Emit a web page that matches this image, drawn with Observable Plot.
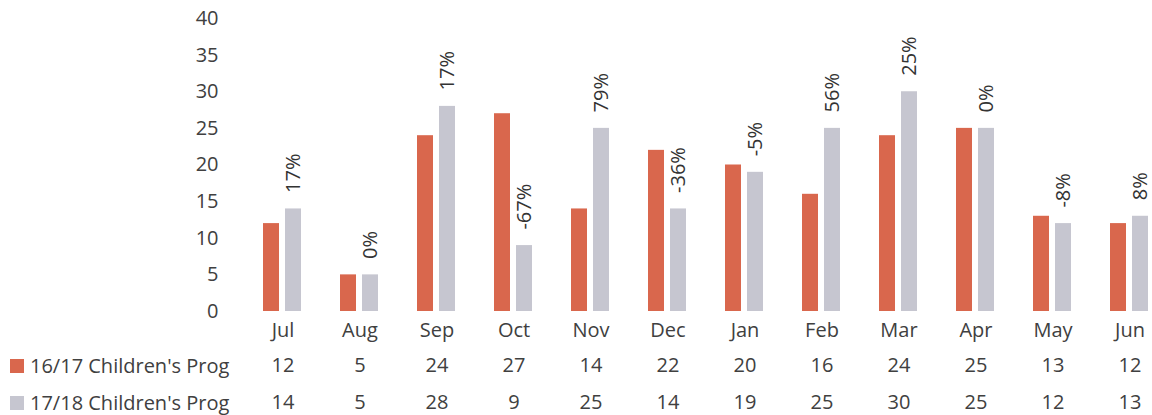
<!DOCTYPE html>
<html><head><meta charset="utf-8">
<script src="https://cdn.jsdelivr.net/npm/d3@7"></script>
<script src="https://cdn.jsdelivr.net/npm/@observablehq/plot@0.6"></script>
<style>
html,body{margin:0;padding:0;background:#fff;overflow:hidden;}
#wrap{position:relative;width:1152px;height:415px;overflow:hidden;font-family:"Open Sans",sans-serif;color:#404040;}
#wrap svg{position:absolute;left:0;top:0;max-width:none !important;}
.leg{position:absolute;left:0;height:26px;line-height:26px;font-size:20px;white-space:nowrap;}
.sw{position:absolute;top:6px;width:14px;height:14px;}
.lt{position:absolute;left:30px;top:0;}
</style></head><body><div id="wrap"></div>
<script>
const months = ["Jul","Aug","Sep","Oct","Nov","Dec","Jan","Feb","Mar","Apr","May","Jun"];
const prog1617 = [12,5,24,27,14,22,20,16,24,25,13,12];
const prog1718 = [14,5,28,9,25,14,19,25,30,25,12,13];
const changeLabels = ["17%","0%","17%","-67%","79%","-36%","-5%","56%","25%","0%","-8%","8%"];
const seriesNames = ["16/17 Children's Prog","17/18 Children's Prog"];
const seriesColors = ["#d9674d","#c6c6d0"];
const yTicks = [0,5,10,15,20,25,30,35,40];

const rows = months.flatMap((m,i)=>[
  {month:m, series:seriesNames[0], value:prog1617[i]},
  {month:m, series:seriesNames[1], value:prog1718[i]}
]);
const labels = months.map((m,i)=>({month:m, series:seriesNames[1], value:prog1718[i], label:changeLabels[i]}));
const table = months.map((m,i)=>({month:m, a:prog1617[i], b:prog1718[i]}));

const chart = Plot.plot({
  width:1168, height:415, marginTop:18, marginBottom:104, marginLeft:244, marginRight:0,
  style:{fontFamily:"'Open Sans', sans-serif", fontSize:"20px", color:"#404040", background:"transparent", maxWidth:"none"},
  fx:{domain:months, paddingInner:0.49, paddingOuter:0.245, label:null, axis:"bottom", tickSize:0, tickPadding:11},
  x:{domain:seriesNames, paddingInner:0.26, paddingOuter:0, axis:null},
  y:{domain:[0,40], ticks:yTicks, tickSize:0, tickPadding:45, label:null},
  color:{domain:seriesNames, range:seriesColors},
  marks:[
    Plot.barY(rows,{fx:"month", x:"series", y:"value", fill:"series"}),
    Plot.text(labels,{fx:"month", x:"series", y:"value", text:"label", rotate:-90, textAnchor:"start", dy:-16, fill:"#333", fontSize:20}),
    Plot.text(table,{fx:"month", text:"a", frameAnchor:"bottom", lineAnchor:"middle", dy:54, fill:"#404040", fontSize:20}),
    Plot.text(table,{fx:"month", text:"b", frameAnchor:"bottom", lineAnchor:"middle", dy:91, fill:"#404040", fontSize:20})
  ]
});
chart.style.maxWidth = "none";
const wrap = document.getElementById("wrap");
wrap.appendChild(chart);
const tops = [353, 390];
seriesNames.forEach((name,i)=>{
  const d = document.createElement("div");
  d.className = "leg";
  d.style.top = tops[i] + "px";
  d.innerHTML = `<span class="sw" style="left:10px;background:${seriesColors[i]}"></span><span class="lt"></span>`;
  d.querySelector(".lt").textContent = name;
  wrap.appendChild(d);
});
</script></body></html>
